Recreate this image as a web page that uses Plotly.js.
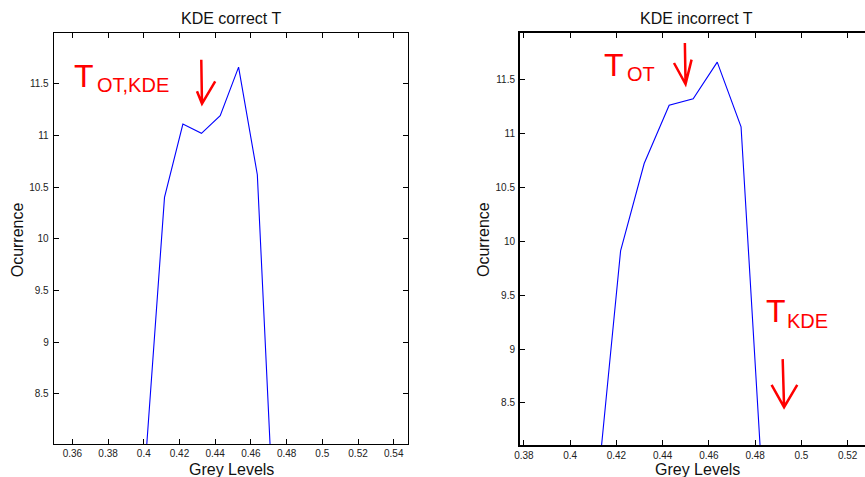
<!DOCTYPE html>
<html>
<head>
<meta charset="utf-8">
<script src="https://cdn.plot.ly/plotly-3.0.1.min.js"></script>
<style>
  html, body { margin: 0; padding: 0; overflow: hidden; background: #fff; }
  #chart { width: 865px; height: 477px; }
</style>
</head>
<body>
<div id="chart"></div>
<script>
// ---- data ----
const greyLevelsCorrect = [0.4012, 0.4116, 0.4219, 0.4323, 0.4428, 0.4531, 0.4636, 0.4740];
const occurrenceCorrect = [7.90, 10.40, 11.11, 11.02, 11.19, 11.66, 10.62, 6.81];

const greyLevelsIncorrect = [0.4114, 0.4218, 0.4320, 0.4428, 0.4532, 0.4636, 0.4739, 0.4843];
const occurrenceIncorrect = [7.63, 9.91, 10.72, 11.26, 11.32, 11.66, 11.06, 7.32];

const xTicksLeft = [0.36, 0.38, 0.40, 0.42, 0.44, 0.46, 0.48, 0.50, 0.52, 0.54];
const xTickTextLeft = ['0.36', '0.38', '0.4', '0.42', '0.44', '0.46', '0.48', '0.5', '0.52', '0.54'];
const xTicksRight = [0.38, 0.40, 0.42, 0.44, 0.46, 0.48, 0.50, 0.52];
const xTickTextRight = ['0.38', '0.4', '0.42', '0.44', '0.46', '0.48', '0.5', '0.52'];
const yTicks = [8.5, 9, 9.5, 10, 10.5, 11, 11.5];
const yTickText = ['8.5', '9', '9.5', '10', '10.5', '11', '11.5'];

const titles = ['KDE correct T', 'KDE incorrect T'];
const xLabel = 'Grey Levels';
const yLabel = 'Ocurrence';

// ---- styling ----
const FONT = 'Liberation Sans, Arial, Helvetica, sans-serif';
const NARROW = 'Liberation Sans Narrow, Arial Narrow, Liberation Sans, Arial, sans-serif';
const RED = '#ff0000';

const traces = [
  { x: greyLevelsCorrect, y: occurrenceCorrect, xaxis: 'x', yaxis: 'y',
    type: 'scatter', mode: 'lines', line: { color: '#0000ff', width: 1.1 }, hoverinfo: 'skip' },
  { x: greyLevelsIncorrect, y: occurrenceIncorrect, xaxis: 'x2', yaxis: 'y2',
    type: 'scatter', mode: 'lines', line: { color: '#0000ff', width: 1.1 }, hoverinfo: 'skip' }
];

function axisBase(extra) {
  return Object.assign({
    showgrid: false, zeroline: false, showline: true, linecolor: '#000',
    ticks: 'inside', ticklen: 5, tickwidth: 1, tickcolor: '#000',
    tickfont: { family: FONT, size: 10, color: '#222' },
    fixedrange: true
  }, extra);
}

const labelFont = { family: FONT, size: 16, color: '#111' };
const redBig = { family: NARROW, size: 32, color: RED };
const redSub = { family: FONT, size: 20, color: RED };

const layout = {
  width: 865, height: 477,
  margin: { l: 0, r: 0, t: 0, b: 0 },
  paper_bgcolor: '#fff', plot_bgcolor: '#fff',
  showlegend: false,
  xaxis: axisBase({ domain: [54/865, 408/865], range: [0.3497, 0.548], anchor: 'y',
    tickvals: xTicksLeft, ticktext: xTickTextLeft, mirror: 'ticks', linewidth: 1.3 }),
  yaxis: axisBase({ domain: [1 - 444/477, 1 - 33/477], range: [8.016, 11.99], anchor: 'x',
    tickvals: yTicks, ticktext: yTickText, mirror: 'ticks', linewidth: 1.3, ticklabelstandoff: 2 }),
  xaxis2: axisBase({ domain: [520/865, 1], range: [0.3783, 0.5275], anchor: 'y2',
    tickvals: xTicksRight, ticktext: xTickTextRight, mirror: 'ticks', linewidth: 2 }),
  yaxis2: axisBase({ domain: [1 - 445/477, 1 - 33/477], range: [8.11, 11.93], anchor: 'x2',
    tickvals: yTicks, ticktext: yTickText, mirror: false, linewidth: 2, ticklabelstandoff: 1 }),
  annotations: [
    { text: titles[0], xref: 'paper', yref: 'paper', x: 231.3/865, y: 1 - 18.4/477,
      xanchor: 'center', yanchor: 'middle', showarrow: false, font: labelFont, borderpad: 0 },
    { text: titles[1], xref: 'paper', yref: 'paper', x: 696.7/865, y: 1 - 18.4/477,
      xanchor: 'center', yanchor: 'middle', showarrow: false, font: labelFont, borderpad: 0 },
    { text: xLabel, xref: 'paper', yref: 'paper', x: 231.3/865, y: 1 - 469/477,
      xanchor: 'center', yanchor: 'middle', showarrow: false, font: labelFont, borderpad: 0 },
    { text: xLabel, xref: 'paper', yref: 'paper', x: 697.2/865, y: 1 - 469/477,
      xanchor: 'center', yanchor: 'middle', showarrow: false, font: labelFont, borderpad: 0 },
    { text: yLabel, xref: 'paper', yref: 'paper', x: 17.8/865, y: 1 - 239.5/477, textangle: -90,
      xanchor: 'center', yanchor: 'middle', showarrow: false, font: labelFont, borderpad: 0 },
    { text: yLabel, xref: 'paper', yref: 'paper', x: 483.5/865, y: 1 - 239.5/477, textangle: -90,
      xanchor: 'center', yanchor: 'middle', showarrow: false, font: labelFont, borderpad: 0 },

    { text: 'T', xref: 'x', yref: 'y', x: 0.3663, y: 11.579, xanchor: 'center', yanchor: 'middle',
      showarrow: false, font: redBig, borderpad: 0 },
    { text: 'OT,KDE', xref: 'x', yref: 'y', x: 0.3735, y: 11.490, xanchor: 'left', yanchor: 'middle',
      showarrow: false, font: redSub, borderpad: 0 },
    { text: 'T', xref: 'x2', yref: 'y2', x: 0.4190, y: 11.632, xanchor: 'center', yanchor: 'middle',
      showarrow: false, font: redBig, borderpad: 0 },
    { text: 'OT', xref: 'x2', yref: 'y2', x: 0.4242, y: 11.554, xanchor: 'left', yanchor: 'middle',
      showarrow: false, font: redSub, borderpad: 0 },
    { text: 'T', xref: 'x2', yref: 'y2', x: 0.4890, y: 9.348, xanchor: 'center', yanchor: 'middle',
      showarrow: false, font: redBig, borderpad: 0 },
    { text: 'KDE', xref: 'x2', yref: 'y2', x: 0.4934, y: 9.263, xanchor: 'left', yanchor: 'middle',
      showarrow: false, font: redSub, borderpad: 0 }
  ],
  shapes: [
    { type: 'path', xref: 'x', yref: 'y', line: { color: RED, width: 2.5 },
      path: 'M 0.4322,11.732 L 0.4326,11.307 M 0.4298,11.426 L 0.4326,11.307 L 0.4400,11.522' },
    { type: 'path', xref: 'x2', yref: 'y2', line: { color: RED, width: 2.5 },
      path: 'M 0.4496,11.838 L 0.4499,11.457 M 0.4449,11.652 L 0.4499,11.457 L 0.4525,11.683' },
    { type: 'path', xref: 'x2', yref: 'y2', line: { color: RED, width: 2.5 },
      path: 'M 0.4919,8.906 L 0.4925,8.461 M 0.4871,8.668 L 0.4925,8.461 L 0.4982,8.668' }
  ]
};

Plotly.newPlot('chart', traces, layout, { displayModeBar: false, staticPlot: true });
</script>
</body>
</html>
